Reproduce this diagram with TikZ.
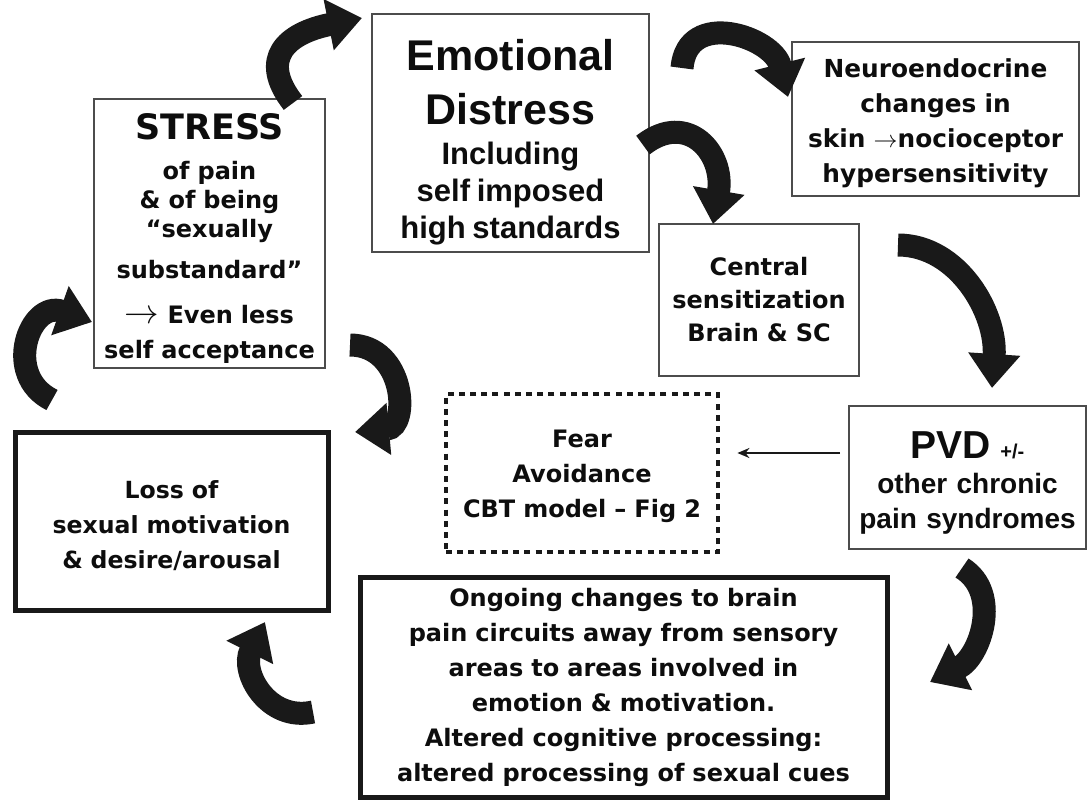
\documentclass[tikz,border=0pt]{standalone}
\usepackage{fontspec}
\setmainfont{Liberation Sans}
\newfontfamily\liber{Liberation Sans}
\newfontfamily\dejavu{DejaVu Sans}
\usepackage{tikz}
\usetikzlibrary{arrows.meta}
\tikzset{
  box/.style={
    draw=black!70, line width=0.8pt, inner sep=0pt, align=center, text=black!95,
    font=\dejavu\bfseries\fontsize{12}{17.5}\selectfont
  },
  heavybox/.style={box, draw=black!90, line width=2.5pt},
  dotbox/.style={box, draw=black!90, line width=2.4pt, dash pattern=on 3pt off 2.6pt},
  boxdim/.style 2 args={minimum width=#1pt, minimum height=#2pt, text width=#1pt}
}
\tikzset{
  curvy/.style={
    draw=black!90, line width=11.5pt,
    -{Triangle[width=25pt, length=17pt]}
  },
  thinarrow/.style={
    draw=black!90, line width=1pt,
    -{Stealth[length=6pt, width=5pt]},
    shorten <=4pt, shorten >=8.5pt
  }
}

\begin{document}
\begin{tikzpicture}[x=0.5pt, y=-0.5pt]
\useasboundingbox (0,0) rectangle (1088,799);

\node[box, boxdim={115.5}{134.5}] (stress) at (209.5,233.5)
  {{\fontsize{17.5}{20}\selectfont\rule{0pt}{18pt}STRESS\par}\vspace{5.5pt}
   \fontsize{12}{14.5}\selectfont of pain\\ \& of being\\ “sexually\\[6pt] substandard”\\[8pt]
   {\fontsize{16}{14.5}\selectfont$\rightarrow$} Even less\\[3pt] self acceptance\par};
\node[box, boxdim={138.5}{119}, font=\liber\bfseries] (emo) at (510.5,133)
  {{\fontsize{21.5}{27}\selectfont\rule{0pt}{24.5pt}Emotional\\ Distress\par}\vspace{1.5pt}
   {\fontsize{15.5}{18.5}\selectfont Including\\ self imposed\\ high standards\par}};
\node[box, boxdim={143.5}{77}, font=\dejavu\bfseries\fontsize{12.4}{17.5}\selectfont] (neuro) at (935.5,119)
  {\rule{0pt}{13.4pt}Neuroendocrine\\ changes in\\ skin $\rightarrow$nocioceptor\\ hypersensitivity};
\node[box, boxdim={100}{76}, font=\dejavu\bfseries\fontsize{12}{16.5}\selectfont] (central) at (759,300)
  {Central\\ sensitization\\ Brain \& SC};
\node[dotbox, boxdim={136}{79}] (fear) at (582,473)
  {\rule{0pt}{11.8pt}Fear\\ Avoidance\\ CBT model – Fig 2};
\node[box, boxdim={118.5}{71.5}, font=\liber\bfseries\fontsize{14}{17.5}\selectfont] (pvd) at (967.5,477.5)
  {{\fontsize{19.5}{17.5}\selectfont\rule{0pt}{19pt}PVD} {\fontsize{10}{12}\selectfont +/-}\\ other chronic\\ pain syndromes};
\node[heavybox, boxdim={263.5}{110}] (ongoing) at (623.5,687)
  {Ongoing changes to brain\\ pain circuits away from sensory\\ areas to areas involved in\\
   emotion \& motivation.\\ Altered cognitive processing:\\ altered processing of sexual cues};
\node[heavybox, boxdim={156.5}{89}, font=\dejavu\bfseries\fontsize{11.8}{17.5}\selectfont] (loss) at (171.5,521)
  {\rule{0pt}{14pt}Loss of\\ sexual motivation\\ \& desire/arousal};

% ends of the curved arrows
\coordinate (s1) at (293,103);  \coordinate (e1) at (362,18);
\coordinate (s2) at (682,68);   \coordinate (e2) at (788,97);
\coordinate (s3) at (643,145);  \coordinate (e3) at (713,224);
\coordinate (s4) at (898,245);  \coordinate (e4) at (992,388);
\coordinate (s5) at (962,568);  \coordinate (e5) at (930,682);
\coordinate (s6) at (350,345);  \coordinate (e6) at (355,432);
\coordinate (s7) at (52,400);   \coordinate (e7) at (92,322);
\coordinate (s8) at (313,712);  \coordinate (e8) at (265,622);

\draw[curvy] (s1) .. controls +(-35,-45) and +(-75,15) .. (e1);
\draw[curvy] (s2) .. controls +(5,-60) and +(-15,-60) .. (e2);
\draw[curvy] (s3) .. controls +(45,-35) and +(12,-70) .. (e3);
\draw[curvy] (s4) .. controls +(60,0) and +(5,-75) .. (e4);
\draw[curvy] (s5) .. controls +(40,25) and +(50,-25) .. (e5);
\draw[curvy] (s6) .. controls +(55,0) and +(55,-5) .. (e6);
\draw[curvy] (s7) .. controls +(-50,-25) and +(-62,-22) .. (e7);
\draw[curvy] (s8) .. controls +(-45,10) and +(-25,50) .. (e8);

\draw[thinarrow] ([yshift=12.25pt]pvd.west) -- ([yshift=12.25pt]pvd.west -| fear.east);
\end{tikzpicture}
\end{document}
